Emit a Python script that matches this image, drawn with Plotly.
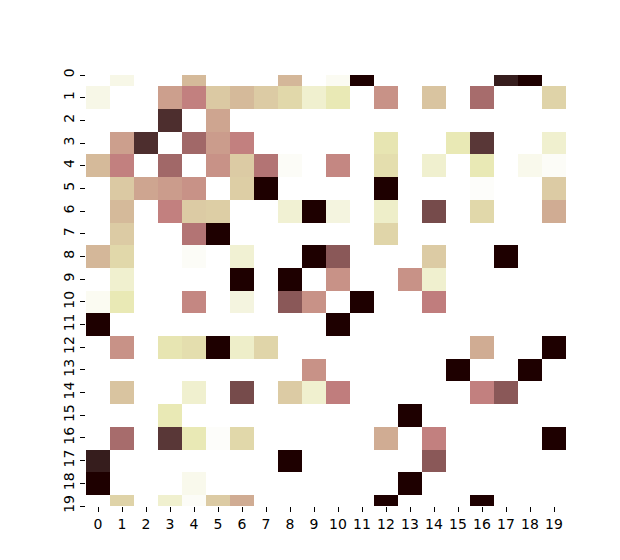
import numpy as np
import plotly.graph_objects as go

# tick labels for the 20x20 grid
row_labels = list(range(20))
col_labels = list(range(20))

# cell values (symmetric, zero diagonal)
values = [
    [0, .09, 0, 0, .45, 0, 0, 0, .46, 0, .05, 1, 0, 0, 0, 0, 0, .98, 1, 0],
    [.09, 0, 0, .54, .63, .39, .45, .38, .33, .17, .25, 0, .58, 0, .41, 0, .73, 0, 0, .35],
    [0, 0, 0, .95, 0, .52, 0, 0, 0, 0, 0, 0, 0, 0, 0, 0, 0, 0, 0, 0],
    [0, .54, .95, 0, .75, .55, .63, 0, 0, 0, 0, 0, .27, 0, 0, .25, .93, 0, 0, .17],
    [.45, .63, 0, .75, 0, .58, .38, .69, .03, 0, .61, 0, .30, 0, .17, 0, .25, 0, .07, .03],
    [0, .39, .52, .55, .58, 0, .37, 1, 0, 0, 0, 0, 1, 0, 0, 0, .02, 0, 0, .38],
    [0, .45, 0, .63, .38, .37, 0, 0, .16, 1, .12, 0, .19, 0, .87, 0, .33, 0, 0, .50],
    [0, .38, 0, 0, .69, 1, 0, 0, 0, 0, 0, 0, .34, 0, 0, 0, 0, 0, 0, 0],
    [.46, .33, 0, 0, .03, 0, .16, 0, 0, 1, .82, 0, 0, 0, .38, 0, 0, 1, 0, 0],
    [0, .17, 0, 0, 0, 0, 1, 0, 1, 0, .58, 0, 0, .58, .17, 0, 0, 0, 0, 0],
    [.05, .25, 0, 0, .61, 0, .12, 0, .82, .58, 0, 1, 0, 0, .64, 0, 0, 0, 0, 0],
    [1, 0, 0, 0, 0, 0, 0, 0, 0, 0, 1, 0, 0, 0, 0, 0, 0, 0, 0, 0],
    [0, .58, 0, .27, .30, 1, .19, .34, 0, 0, 0, 0, 0, 0, 0, 0, .50, 0, 0, 1],
    [0, 0, 0, 0, 0, 0, 0, 0, 0, .58, 0, 0, 0, 0, 0, 1, 0, 0, 1, 0],
    [0, .41, 0, 0, .17, 0, .87, 0, .38, .17, .64, 0, 0, 0, 0, 0, .63, .82, 0, 0],
    [0, 0, 0, .25, 0, 0, 0, 0, 0, 0, 0, 0, 0, 1, 0, 0, 0, 0, 0, 0],
    [0, .73, 0, .93, .25, .02, .33, 0, 0, 0, 0, 0, .50, 0, .63, 0, 0, 0, 0, 1],
    [.98, 0, 0, 0, 0, 0, 0, 0, 1, 0, 0, 0, 0, 0, .82, 0, 0, 0, 0, 0],
    [1, 0, 0, 0, .07, 0, 0, 0, 0, 0, 0, 0, 0, 1, 0, 0, 0, 0, 0, 0],
    [0, .35, 0, .17, .03, .38, .50, 0, 0, 0, 0, 0, 1, 0, 0, 0, 1, 0, 0, 0],
]


def pink_r_scale(m=64):
    # matlab-style pink(64), reversed so low values are white
    n = int(3 * m / 8)
    idx = np.arange(1, m + 1)
    r = np.clip(idx / n, 0, 1)
    g = np.clip((idx - n) / n, 0, 1)
    b = np.clip((idx - 2 * n) / (m - 2 * n), 0, 1)
    gray = np.arange(m) / (m - 1)
    rgb = np.sqrt((2 * gray[:, None] + np.stack([r, g, b], axis=1)) / 3)
    rgb = rgb[::-1]
    return [[k / (m - 1), "rgb(%d,%d,%d)" % tuple(np.round(c * 255))]
            for k, c in enumerate(rgb)]


fig = go.Figure(go.Heatmap(
    z=values,
    x=col_labels,
    y=row_labels,
    colorscale=pink_r_scale(),
    zmin=0, zmax=1,
    showscale=False,
))

tick_font = dict(family="DejaVu Sans", size=14, color="black")

fig.update_layout(
    width=620, height=560,
    margin=dict(l=78, r=62, t=67, b=62),
    paper_bgcolor="white",
    plot_bgcolor="white",
    xaxis=dict(
        range=[-0.5, 19.5], tickmode="array", tickvals=col_labels,
        ticks="outside", ticklen=5, tickwidth=1, tickcolor="black",
        showgrid=False, zeroline=False, showline=False, tickfont=tick_font,
    ),
    yaxis=dict(
        range=[19, 0], tickmode="array", tickvals=row_labels,
        ticks="outside", ticklen=5, tickwidth=1, tickcolor="black",
        showgrid=False, zeroline=False, showline=False, tickfont=tick_font,
        tickangle=-90,
    ),
)

fig.write_html("out.html")
